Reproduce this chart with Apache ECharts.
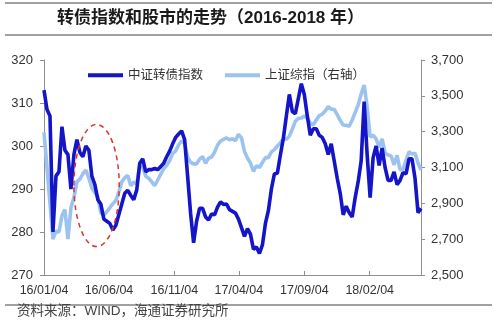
<!DOCTYPE html>
<html>
<head>
<meta charset="utf-8">
<script src="https://cdn.jsdelivr.net/npm/echarts@6/dist/echarts.min.js"></script>
<style>
  html, body { margin: 0; padding: 0; background: #fff; }
  #chart { width: 500px; height: 335px; }
</style>
</head>
<body>
<div id="chart"></div>
<script>
// Weekly closes, first week 2016-01-04
const firstWeek = '2016-01-04';

// 中证转债指数 (left axis)
const cbIndex = [
  313, 308.5, 307, 280, 293, 294, 304.5, 299, 298, 290,
  298, 301.5, 298.5, 297.5, 300, 299, 293, 291, 287.5, 286.5,
  283, 282.5, 282, 280.5, 281.5, 284, 286.5, 289, 289.7, 288.5,
  287.5, 289.8, 296, 297, 294, 294.5, 294.5, 294.8, 294.5, 295.2,
  296, 297.5, 298.8, 300.5, 302, 302.8, 303.5, 301.5, 293, 284.3,
  277.5, 282.5, 285.5, 285.5, 283.5, 282.8, 284.2, 284, 285.8, 287,
  286.4, 286.5, 285.2, 284.8, 284.4, 283, 281, 279, 280.8, 279.5,
  276, 276.5, 275, 277, 282, 285, 290, 293.5, 293.7, 297.9,
  301.8, 307, 312, 308, 307.5, 311, 314.5, 312, 307, 302.5,
  304, 304, 302.5, 302, 300.5, 298, 300.5, 296.5, 292.5, 289,
  284, 286, 284.5, 283.5, 288, 291.7, 296.5, 310.3, 298, 288,
  297.3, 300, 295.5, 299.5, 295, 292, 292, 294, 291, 292,
  293.8, 293.5, 297, 297, 292.5, 284.5, 285.5
];

// 上证综指 (right axis)
const shIndex = [
  3296, 3100, 2900, 2700, 2745, 2740, 2830, 2865, 2700, 2875,
  2932, 3020, 3035, 3065, 3085, 3040, 2985, 2960, 2935, 2846,
  2835, 2853, 2875, 2898, 2915, 2963, 3020, 3043, 3056, 2998,
  3018, 3010, 3110, 3103, 3051, 3040, 3020, 2998, 3030, 3062,
  3092, 3112, 3138, 3179, 3193, 3227, 3248, 3235, 3160, 3128,
  3120, 3120, 3147, 3161, 3123, 3152, 3158, 3185, 3225, 3248,
  3257, 3265, 3255, 3260, 3250, 3285, 3265, 3190, 3153, 3125,
  3078, 3110, 3100, 3128, 3155, 3155, 3187, 3200, 3220, 3237,
  3263, 3257, 3275, 3315, 3358, 3374, 3376, 3388, 3375, 3348,
  3338, 3365, 3390, 3398, 3415, 3440, 3425, 3425, 3395, 3362,
  3337, 3335, 3330, 3365, 3407, 3449, 3510, 3560, 3440, 3270,
  3280, 3260, 3212, 3260, 3180, 3170, 3165, 3115, 3168, 3088,
  3090, 3140, 3188, 3175, 3180, 3125, 3086
];

// Date axis labels and range
const tickDates = ['2016-01-04', '2016-06-04', '2016-11-04', '2017-04-04', '2017-09-04', '2018-02-04'];
const axisStart = '2016-01-04';
const axisEnd = '2018-06-04';

const leftTicks = [270, 280, 290, 300, 310, 320];
const rightTicks = [2500, 2700, 2900, 3100, 3300, 3500, 3700];

// Highlighted window (dashed ellipse), in data terms
const focusFrom = '2016-03-14';
const focusTo = '2016-06-28';
const focusLow = 276.6;
const focusHigh = 305;

// The x axis runs in whole days counted from axisStart (UTC to avoid DST drift)
const DAY = 86400000;
function utc(s) {
  const p = s.split('-').map(Number);
  return Date.UTC(p[0], p[1] - 1, p[2]);
}
const t0 = utc(axisStart);
function dayOf(s) { return Math.round((utc(s) - t0) / DAY); }
function pad(n) { return (n < 10 ? '0' : '') + n; }
function fmtDay(v) {
  const d = new Date(t0 + Math.round(v) * DAY);
  return pad(d.getUTCFullYear() % 100) + '/' + pad(d.getUTCMonth() + 1) + '/' + pad(d.getUTCDate());
}

const week0 = dayOf(firstWeek);
const cbData = cbIndex.map((v, k) => [week0 + 7 * k, v]);
const shData = shIndex.map((v, k) => [week0 + 7 * k, v]);
const tickDays = tickDates.map(dayOf);

const latin = '"Liberation Sans", Arial, sans-serif';
const cjk = '"Liberation Sans", "Noto Sans CJK SC", sans-serif';
const axisGray = '#8f8f8f';
const textGray = '#333';

const chart = echarts.init(document.getElementById('chart'), null, { renderer: 'canvas' });

chart.setOption({
  animation: false,
  backgroundColor: '#fff',
  title: {
    text: '转债指数和股市的走势（2016-2018 年）',
    left: 52,
    top: 5,
    textStyle: { fontFamily: cjk, fontSize: 17, fontWeight: 'bold', color: '#1a1a1a' }
  },
  legend: {
    left: 83,
    top: 64,
    itemGap: 22,
    itemWidth: 35,
    itemHeight: 4,
    icon: 'rect',
    textStyle: { fontFamily: cjk, fontSize: 12.5, color: textGray },
    data: ['中证转债指数', '上证综指（右轴）']
  },
  grid: { left: 44, right: 79, top: 60, bottom: 60 },
  xAxis: {
    type: 'value',
    min: dayOf(axisStart),
    max: dayOf(axisEnd),
    axisLine: { lineStyle: { color: axisGray, width: 1 } },
    axisTick: {
      inside: true, length: 4,
      lineStyle: { color: axisGray },
      customValues: tickDays
    },
    axisLabel: {
      customValues: tickDays,
      formatter: fmtDay,
      fontFamily: latin, fontSize: 12.5, color: textGray, margin: 9
    },
    splitLine: { show: false }
  },
  yAxis: [
    {
      type: 'value',
      min: leftTicks[0],
      max: leftTicks[leftTicks.length - 1],
      interval: leftTicks[1] - leftTicks[0],
      axisLine: { show: true, lineStyle: { color: axisGray } },
      axisTick: { show: true, length: 4, lineStyle: { color: axisGray } },
      axisLabel: { fontFamily: latin, fontSize: 13, color: textGray, margin: 11 },
      splitLine: { show: false }
    },
    {
      type: 'value',
      min: rightTicks[0],
      max: rightTicks[rightTicks.length - 1],
      interval: rightTicks[1] - rightTicks[0],
      position: 'right',
      axisLine: { show: true, lineStyle: { color: axisGray } },
      axisTick: { show: true, length: 4, lineStyle: { color: axisGray } },
      axisLabel: {
        fontFamily: latin, fontSize: 13, color: textGray, margin: 10,
        formatter: v => v.toLocaleString('en-US')
      },
      splitLine: { show: false }
    }
  ],
  series: [
    {
      name: '上证综指（右轴）',
      type: 'line',
      yAxisIndex: 1,
      data: shData,
      showSymbol: false,
      z: 2,
      lineStyle: { color: '#9cc3ef', width: 3.6 },
      itemStyle: { color: '#9cc3ef' }
    },
    {
      name: '中证转债指数',
      type: 'line',
      yAxisIndex: 0,
      data: cbData,
      showSymbol: false,
      z: 3,
      lineStyle: { color: '#1414c8', width: 3.6 },
      itemStyle: { color: '#1414c8' }
    }
  ]
});

// Frame rules, source note and the dashed ellipse around the focus window
const p1 = chart.convertToPixel({ xAxisIndex: 0, yAxisIndex: 0 }, [dayOf(focusFrom), focusHigh]);
const p2 = chart.convertToPixel({ xAxisIndex: 0, yAxisIndex: 0 }, [dayOf(focusTo), focusLow]);

chart.setOption({
  graphic: [
    { type: 'line', shape: { x1: 5, y1: 3, x2: 492, y2: 3 }, style: { stroke: '#444', lineWidth: 1 } },
    { type: 'line', shape: { x1: 5, y1: 35, x2: 492, y2: 35 }, style: { stroke: '#444', lineWidth: 1 } },
    { type: 'line', shape: { x1: 5, y1: 305, x2: 492, y2: 305 }, style: { stroke: '#444', lineWidth: 1 } },
    {
      type: 'text', left: 17, top: 305,
      style: { text: '资料来源：WIND，海通证券研究所', font: '13.5px ' + cjk, fill: '#444' }
    },
    {
      type: 'ellipse', z: 10,
      shape: { cx: (p1[0] + p2[0]) / 2, cy: (p1[1] + p2[1]) / 2, rx: (p2[0] - p1[0]) / 2, ry: (p2[1] - p1[1]) / 2 },
      style: { fill: 'none', stroke: '#d9362b', lineWidth: 1.5, lineDash: [5, 4] }
    }
  ]
});
</script>
</body>
</html>
